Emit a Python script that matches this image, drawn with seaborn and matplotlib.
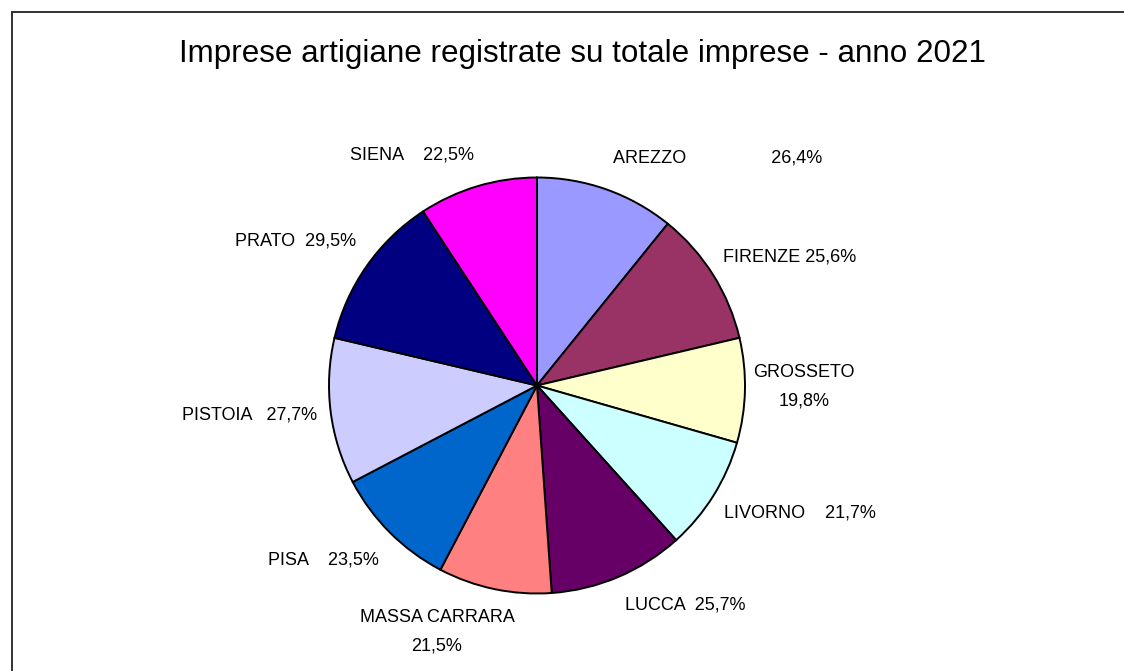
import matplotlib
matplotlib.use("Agg")
import matplotlib.pyplot as plt
import seaborn as sns
from matplotlib.lines import Line2D

# ---- data ----
provinces = ["AREZZO", "FIRENZE", "GROSSETO", "LIVORNO", "LUCCA",
             "MASSA CARRARA", "PISA", "PISTOIA", "PRATO", "SIENA"]
shares = [26.4, 25.6, 19.8, 21.7, 25.7, 21.5, 23.5, 27.7, 29.5, 22.5]
colors = ["#9999FF", "#993366", "#FFFFCC", "#CCFFFF", "#660066",
          "#FF8080", "#0066CC", "#CCCCFF", "#000080", "#FF00FF"]
title = "Imprese artigiane registrate su totale imprese - anno 2021"

# ---- label layout (text templates and anchors, in pie-radius units) ----
label_templates = ["{n}" + " " * 17 + "{v}", "{n} {v}", "{n}\n{v}", "{n}    {v}",
                   "{n}  {v}", "{n}\n{v}", "{n}    {v}", "{n}   {v}",
                   "{n}  {v}", "{n}    {v}"]
label_xy = [(0.870, 1.094), (1.216, 0.618), (1.284, -0.007), (1.264, -0.613),
            (0.712, -1.055), (-0.481, -1.185), (-1.029, -0.839),
            (-1.380, -0.142), (-1.159, 0.695), (-0.601, 1.106)]

sns.set_theme(style="white")
plt.rcParams["font.family"] = ["Liberation Sans", "DejaVu Sans"]

W, H = 1124, 671
fig = plt.figure(figsize=(W / 100, H / 100), dpi=100)
fig.patch.set_facecolor("white")

# pie geometry in pixels
cx, cy, R = 537.0, 385.5, 208.0
ax = fig.add_axes([0, 0, 1, 1])
ax.pie(shares, colors=colors, startangle=90, counterclock=False, radius=1.0,
       wedgeprops=dict(edgecolor="black", linewidth=1.4))
ax.set_xlim(-cx / R, (W - cx) / R)
ax.set_ylim(-(H - cy) / R, cy / R)
ax.set_aspect("auto")
ax.axis("off")

for name, val, tpl, (lx, ly) in zip(provinces, shares, label_templates, label_xy):
    vtxt = f"{val:.1f}".replace(".", ",") + "%"
    ax.text(lx, ly, tpl.format(n=name, v=vtxt), ha="center", va="center",
            fontsize=13, color="black", linespacing=1.9, multialignment="center")

fig.text(582 / W, 1 - 54 / H, title, ha="center", va="center",
         fontsize=22.6, color="black")

# outer frame (top and left edges visible)
fig.add_artist(Line2D([12 / W, 1.0], [1 - 11.5 / H, 1 - 11.5 / H],
                      transform=fig.transFigure, color="#222222", linewidth=1.3))
fig.add_artist(Line2D([12 / W, 12 / W], [0.0, 1 - 11.5 / H],
                      transform=fig.transFigure, color="#222222", linewidth=1.3))

fig.savefig("out.png", dpi=100, facecolor="white")
